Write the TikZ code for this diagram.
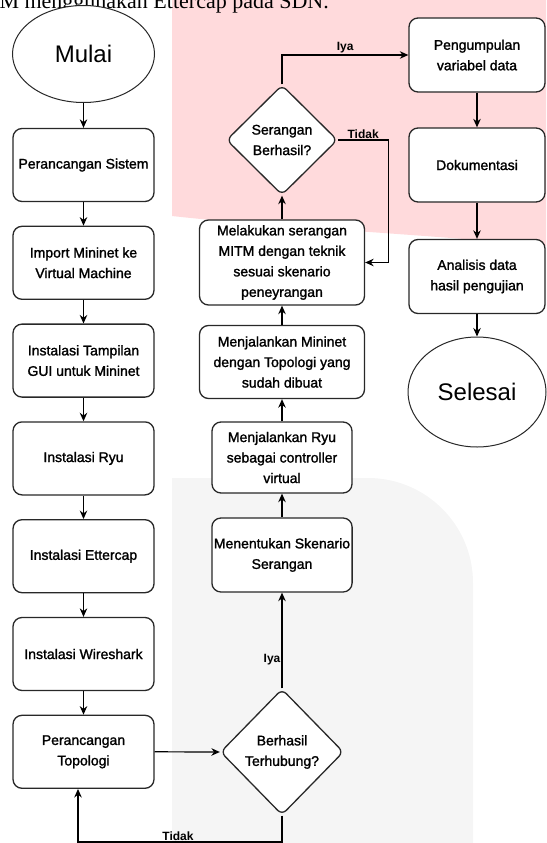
\documentclass[tikz,border=0pt]{standalone}
\usepackage{fontspec}
\setmainfont{Liberation Sans}
\newfontfamily\captionfont{Liberation Serif}
\newfontfamily\boxfont{Liberation Sans}[FakeBold=1.5]
\usepackage{xcolor}
\usetikzlibrary{shapes.geometric,arrows.meta}

\definecolor{bgpink}{RGB}{255,218,220}
\definecolor{bggray}{RGB}{245,245,245}
\definecolor{linegray}{RGB}{40,40,40}

\tikzset{
	box/.style={draw=linegray, line width=1.3pt, fill=white, rounded corners=9pt, align=center, inner sep=2pt, font=\boxfont\fontsize{14}{20.5}\selectfont},
	decision/.style={diamond, draw=linegray, line width=1.3pt, fill=white, rounded corners=6pt, align=center, inner sep=0pt, font=\boxfont\fontsize{14}{20.5}\selectfont},
	terminal/.style={ellipse, draw=linegray, line width=1pt, fill=white, font=\fontsize{24}{28}\selectfont},
	arr/.style={-{Stealth[length=8.5pt,width=7.5pt]}, line width=1.2pt, draw=black},
	lbl/.style={font=\bfseries\fontsize{12}{14}\selectfont, inner sep=1pt}
}

\begin{document}
\begin{tikzpicture}[x=1pt,y=-1pt]
	
	% Parameters
	\def\lx{83.5}
	\def\mx{282}
	\def\rx{477}
	\def\rowstep{97.8}
	\useasboundingbox (0,0) rectangle (546,843);
	
	% background areas
	\fill[bgpink] (172,0) -- (546,0) -- (546,246) .. controls (420,234) and (260,226) .. (172,216) -- cycle;
	\fill[bggray] (172,850) -- (172,478) -- (368,478) .. controls (426,478) and (473,525) .. (473,583) -- (473,850) -- cycle;
	
	% caption line, cut by the page
	\node[anchor=base east, font=\captionfont\fontsize{22}{26}\selectfont, inner sep=0pt] (caption) at (329,8.5) {M menggunakan Ettercap pada SDN.};
	
	% left column
	\node[terminal, minimum width=142pt, minimum height=97pt] (mulai) at (\lx,54) {Mulai};
	\foreach \txt [count=\i] in {Perancangan Sistem, {Import Mininet ke\\Virtual Machine}, {Instalasi Tampilan\\GUI untuk Mininet}, Instalasi Ryu, Instalasi Ettercap, Instalasi Wireshark, {Perancangan\\Topologi}} {
		\node[box, minimum width=141pt, minimum height=73pt] (l\i) at (\lx, 165+\rowstep*\i-\rowstep) {\txt};
	}
	
	% middle column
	\node[box, minimum width=165pt, minimum height=85pt] (serang) at (\mx,262.5) {Melakukan serangan\\MITM dengan teknik\\sesuai skenario\\peneyrangan};
	\node[box, minimum width=165pt, minimum height=73pt] (mininet) at (\mx,362) {Menjalankan Mininet\\dengan Topologi yang\\sudah dibuat};
	\node[box, minimum width=140pt, minimum height=71pt] (ryu) at (\mx,457.5) {Menjalankan Ryu\\sebagai controller\\virtual};
	\node[box, minimum width=140pt, minimum height=74pt] (skenario) at (\mx,555) {Menentukan Skenario\\Serangan};
	\node[decision, minimum width=123pt, minimum height=126pt] (cekkoneksi) at (\mx,752) {Berhasil\\Terhubung?};
	\node[decision, minimum width=111pt, minimum height=110pt] (cekserang) at (\mx,140) {Serangan\\Berhasil?};
	
	% right column
	\node[box, minimum width=136pt, minimum height=74pt] (kumpul) at (\rx,55) {Pengumpulan\\variabel data};
	\node[box, minimum width=136pt, minimum height=74pt] (dokumentasi) at (\rx,165) {Dokumentasi};
	\node[box, minimum width=136pt, minimum height=74pt] (analisis) at (\rx,276.5) {Analisis data\\hasil pengujian};
	\node[terminal, minimum width=138pt, minimum height=110pt] (selesai) at (\rx,392) {Selesai};
	
	% arrows left column
	\draw[arr] (mulai.south) -- (l1.north);
	\foreach \i [count=\j from 2] in {1,...,6} {
		\draw[arr] (l\i.south) -- (l\j.north);
	}
	\draw[arr] (l7.east) -- (cekkoneksi.west);
	
	% loop back when not connected
	\coordinate (bottom) at (0,842);
	\coordinate (l7in) at ([xshift=-5.5pt]l7.south);
	\draw[arr] (cekkoneksi.south) -- (cekkoneksi.south |- bottom) -- node[lbl, above, pos=0.51] {Tidak} (l7in |- bottom) -- (l7in);
	
	% arrows middle column
	\draw[arr] (cekkoneksi.north) -- node[lbl, left, pos=0.3] {Iya} (skenario.south);
	\draw[arr] (skenario.north) -- (ryu.south);
	\draw[arr] (ryu.north) -- (mininet.south);
	\draw[arr] (mininet.north) -- (serang.south);
	\draw[arr] (serang.north) -- (cekserang.south);
	\draw[arr] (cekserang.north) |- node[lbl, above, pos=0.75] {Iya} (kumpul.west);
	\draw[arr] (cekserang.east) -- node[lbl, above] {Tidak} ++(50,0) |- (serang.east);
	
	% arrows right column
	\draw[arr] (kumpul.south) -- (dokumentasi.north);
	\draw[arr] (dokumentasi.south) -- (analisis.north);
	\draw[arr] (analisis.south) -- (selesai.north);
	
\end{tikzpicture}
\end{document}
